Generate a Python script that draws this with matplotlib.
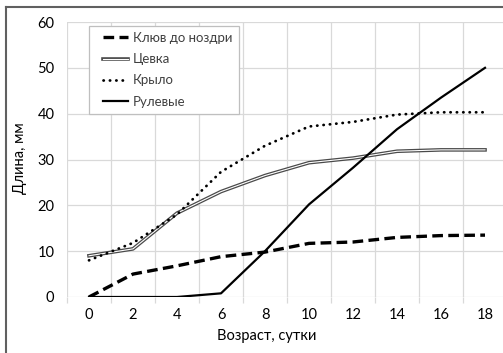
import matplotlib
matplotlib.use("Agg")
import matplotlib.pyplot as plt
import matplotlib.patheffects as pe
from matplotlib.legend_handler import HandlerLine2D

plt.rcParams['font.family'] = ['Lato', 'DejaVu Sans']

age = [0, 2, 4, 6, 8, 10, 12, 14, 16, 18]
beak = [0, 5.0, 6.8, 8.8, 9.8, 11.7, 12.0, 13.0, 13.4, 13.5]
tarsus = [9.0, 10.5, 18.3, 23.0, 26.5, 29.3, 30.3, 31.8, 32.1, 32.1]
wing = [8.0, 11.8, 18.0, 27.3, 33.0, 37.2, 38.2, 39.8, 40.3, 40.3]
tail = [0, 0, 0, 0.8, 10.0, 20.2, 28.2, 36.6, 43.5, 50.0]

names = ['Клюв до ноздри', 'Цевка', 'Крыло', 'Рулевые']


# legend handle that starts a bit to the right (like Excel)
class ShiftedLine(HandlerLine2D):
    def create_artists(self, legend, orig_handle, xdescent, ydescent,
                       width, height, fontsize, trans):
        off = 6
        return super().create_artists(legend, orig_handle, xdescent - off, ydescent,
                                      width - off, height, fontsize, trans)


fig = plt.figure(figsize=(5.03, 3.53), dpi=100)
W, H = 503, 353
ax = fig.add_axes([67 / W, 1 - 297 / H, 440 / W, 275 / H])

ax.plot(age, beak, color='black', lw=2.4, ls=(0, (3.2, 1.6)), label=names[0],
        dash_capstyle='butt')
ax.plot(age, tarsus, color='#505050', lw=2.6, label=names[1],
        path_effects=[pe.Stroke(linewidth=2.6, foreground='#4a4a4a'),
                      pe.Stroke(linewidth=0.8, foreground='white')])
ax.plot(age, wing, color='black', lw=2.0, ls=(0, (0.1, 2.2)), label=names[2],
        dash_capstyle='round')
ax.plot(age, tail, color='black', lw=1.6, label=names[3])

ax.set_xlim(-1, 19)
ax.set_ylim(0, 60)
ax.set_xticks(age)
ax.set_xticks([a + 1 for a in [-2] + age], minor=True)
ax.set_yticks(range(0, 61, 10))
ax.grid(True, which='minor', axis='x', color='#d9d9d9', lw=0.9)
ax.grid(True, which='major', axis='y', color='#d9d9d9', lw=0.9)
ax.set_axisbelow(True)
for s in ax.spines.values():
    s.set_visible(False)
ax.tick_params(which='major', axis='x', length=0, pad=8, labelsize=10.5)
ax.tick_params(which='minor', axis='x', length=4, color='#d9d9d9', width=0.9)
ax.tick_params(axis='y', length=0, pad=9, labelsize=10.5)

ax.set_xlabel('Возраст, сутки', fontsize=10.5)
ax.xaxis.set_label_coords((267 - 67) / 440, (297 - 329) / 275)
ax.set_ylabel('Длина, мм', fontsize=10.5)
ax.yaxis.set_label_coords((27 - 67) / 440, (297 - 158) / 275)

leg = ax.legend(loc='upper left', bbox_to_anchor=(22 / 440, (297 - 26) / 275),
                fontsize=9.5, frameon=True, fancybox=False, handlelength=2.5,
                handletextpad=0.4, labelspacing=0.7, borderpad=0.45,
                borderaxespad=0, framealpha=1,
                handler_map={plt.Line2D: ShiftedLine()})
leg.get_frame().set_edgecolor('#bfbfbf')
leg.get_frame().set_linewidth(0.9)
for t in leg.get_texts():
    t.set_color('#404040')

# outer frame like in the reference
fig.add_artist(plt.Line2D([6 / W, 1], [1 - 7 / H, 1 - 7 / H], color='#606060', lw=1.5,
                          transform=fig.transFigure))
fig.add_artist(plt.Line2D([6 / W, 6 / W], [0, 1 - 7 / H], color='#606060', lw=1.5,
                          transform=fig.transFigure))

fig.savefig('out.png', dpi=100)
